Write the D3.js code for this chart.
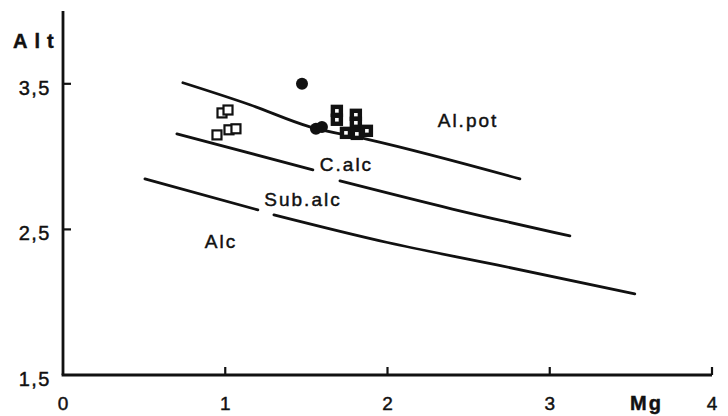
<!DOCTYPE html>
<html>
<head>
<meta charset="utf-8">
<script src="https://cdn.jsdelivr.net/npm/d3@7/dist/d3.min.js"></script>
<style>
  html, body { margin: 0; padding: 0; background: #fff; }
  svg { display: block; }
  text { font-family: "Liberation Sans", Arial, Helvetica, sans-serif; fill: #111; stroke: #111; stroke-width: 0.45; }
</style>
</head>
<body>
<svg id="chart" width="728" height="416"></svg>
<script>
// ---- data ----
const xTicks = [0, 1, 2, 3, 4];
const xTickLabels = ["0", "1", "2", "3", "4"];
const yTicks = [1.5, 2.5, 3.5];
const yTickLabels = ["1,5", "2,5", "3,5"];

// boundary lines (segments broken around labels)
const lineAlPot = [[0.739, 3.507], [1.152, 3.356], [1.522, 3.204], [1.891, 3.115], [2.816, 2.847]];
const lineCalcA = [[0.702, 3.156], [1.540, 2.909]];
const lineCalcB = [[1.707, 2.833], [2.40, 2.64], [3.124, 2.455]];
const lineSubA = [[0.505, 2.847], [1.201, 2.634]];
const lineSubB = [[1.300, 2.600], [2.00, 2.41], [2.674, 2.256], [3.524, 2.057]];
const boundaries = [lineAlPot, lineCalcA, lineCalcB, lineSubA, lineSubB];

// samples
const openSquares = [[0.980, 3.300], [1.017, 3.320], [0.949, 3.149], [1.023, 3.184], [1.066, 3.191]];
const darkSquares = [[1.688, 3.314], [1.688, 3.253], [1.805, 3.287], [1.805, 3.232], [1.744, 3.163], [1.811, 3.156], [1.873, 3.177]];
const filledCircles = [[1.473, 3.500], [1.559, 3.191], [1.596, 3.204]];

// field names
const fieldNames = ["Al.pot", "C.alc", "Sub.alc", "Alc"];
const fieldAnchors = [[2.49, 3.253], [1.741, 2.95], [1.473, 2.71], [0.968, 2.421]];

// ---- chart ----
const svg = d3.select("#chart");
const x = d3.scaleLinear().domain([0, 4]).range([63, 712]);
const y = d3.scaleLinear().domain([1.5, 4]).range([375, 11]);

const ink = "#111";

// axes lines
svg.append("line").attr("x1", x(0)).attr("x2", x(0)).attr("y1", y(4)).attr("y2", y(1.5))
  .attr("stroke", ink).attr("stroke-width", 2.8);
svg.append("line").attr("x1", x(0) - 1.4).attr("x2", x(4)).attr("y1", y(1.5)).attr("y2", y(1.5))
  .attr("stroke", ink).attr("stroke-width", 2.8);

// x ticks (inward / upward)
svg.selectAll(".xt").data(xTicks.filter(d => d > 0)).join("line")
  .attr("x1", d => x(d)).attr("x2", d => x(d))
  .attr("y1", y(1.5)).attr("y2", y(1.5) - 8)
  .attr("stroke", ink).attr("stroke-width", 2.2);
svg.selectAll(".xl").data(xTicks).join("text")
  .attr("x", d => x(d)).attr("y", 410)
  .attr("text-anchor", "middle").attr("font-size", 19)
  .text((d, i) => xTickLabels[i]);

// y ticks (inward)
svg.selectAll(".yt").data(yTicks.filter(d => d > 1.5)).join("line")
  .attr("x1", x(0)).attr("x2", x(0) + 8)
  .attr("y1", d => y(d)).attr("y2", d => y(d))
  .attr("stroke", ink).attr("stroke-width", 2.2);
svg.selectAll(".yl").data(yTicks).join("text")
  .attr("x", 51).attr("y", d => y(d) + 11)
  .attr("text-anchor", "end").attr("font-size", 20).attr("letter-spacing", 1.5)
  .text((d, i) => yTickLabels[i]);

// axis titles
svg.append("text").attr("x", 13).attr("y", 48)
  .attr("font-size", 20).attr("font-weight", "bold").attr("letter-spacing", 7)
  .text("Alt");
svg.append("text").attr("x", 630).attr("y", 410)
  .attr("font-size", 20).attr("font-weight", "bold")
  .attr("letter-spacing", 2).text("Mg");

// boundary lines
const lineGen = d3.line().x(d => x(d[0])).y(d => y(d[1])).curve(d3.curveMonotoneX);
svg.selectAll(".bnd").data(boundaries).join("path")
  .attr("d", lineGen).attr("fill", "none")
  .attr("stroke", ink).attr("stroke-width", 2.8).attr("stroke-linecap", "round");

// field labels
svg.selectAll(".fl").data(fieldNames).join("text")
  .attr("x", (d, i) => x(fieldAnchors[i][0]))
  .attr("y", (d, i) => y(fieldAnchors[i][1]) + 7)
  .attr("dx", 1)
  .attr("text-anchor", "middle").attr("font-size", 19).attr("letter-spacing", 2)
  .text(d => d);

// open squares
const sq = 9;
svg.selectAll(".os").data(openSquares).join("rect")
  .attr("x", d => x(d[0]) - sq / 2).attr("y", d => y(d[1]) - sq / 2)
  .attr("width", sq).attr("height", sq)
  .attr("fill", "#fff").attr("stroke", ink).attr("stroke-width", 2.2);

// dark squares
svg.selectAll(".ds").data(darkSquares).join("rect")
  .attr("x", d => x(d[0]) - 4).attr("y", d => y(d[1]) - 4)
  .attr("width", 8).attr("height", 8)
  .attr("fill", "#fff").attr("stroke", ink).attr("stroke-width", 4.4);

// filled circles
svg.selectAll(".fc").data(filledCircles).join("circle")
  .attr("cx", d => x(d[0])).attr("cy", d => y(d[1])).attr("r", 6)
  .attr("fill", ink);
</script>
</body>
</html>
